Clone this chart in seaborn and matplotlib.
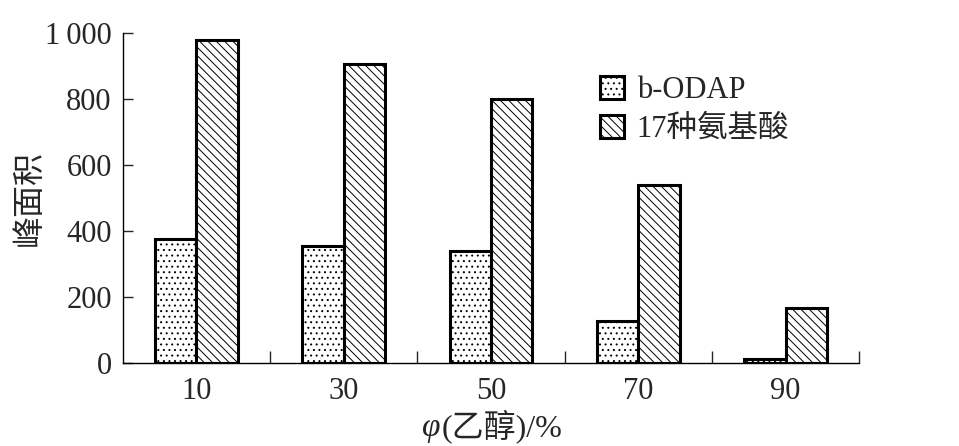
import matplotlib
matplotlib.use("Agg")
import matplotlib.pyplot as plt
import numpy as np
import pandas as pd
import seaborn as sns
from matplotlib.ticker import FixedLocator

# chart data
ethanol = ["10", "30", "50", "70", "90"]
series_names = ["b-ODAP", "17种氨基酸"]
odap_area = [375, 355, 338, 128, 12]
amino_area = [978, 905, 800, 538, 168]
y_ticks = [0, 200, 400, 600, 800, 1000]
y_tick_labels = ["0", "200", "400", "600", "800", "1\u2009000"]

df = pd.DataFrame({
    "ethanol": ethanol * 2,
    "series": [series_names[0]] * len(ethanol) + [series_names[1]] * len(ethanol),
    "area": odap_area + amino_area,
})

sns.set_style("white")
plt.rcParams["font.family"] = ["Liberation Serif", "Noto Sans CJK SC", "DejaVu Sans"]
plt.rcParams["hatch.linewidth"] = 0.7
plt.rcParams["hatch.color"] = "black"

fig = plt.figure(figsize=(9.59, 4.46), dpi=100)
ax = fig.add_axes([0.128, 0.186, 0.768, 0.740])

sns.barplot(data=df, x="ethanol", y="area", hue="series", order=ethanol,
            hue_order=series_names, palette=["white", "white"], width=0.56,
            edgecolor="black", linewidth=2.2, legend=False, ax=ax)

hatches = ["...", "\\\\\\\\"]
for cont, h in zip(ax.containers, hatches):
    for bar in cont:
        bar.set_hatch(h)

ax.set_xlim(-0.5, len(ethanol) - 0.5)
ax.set_ylim(0, 1000)
sns.despine(ax=ax)
for sp in ["left", "bottom"]:
    ax.spines[sp].set_linewidth(1.0)
    ax.spines[sp].set_color("black")

ax.yaxis.set_major_locator(FixedLocator(y_ticks))
ax.set_yticklabels(y_tick_labels)
ax.tick_params(axis="y", direction="in", length=7, width=1.0, labelsize=22, pad=8, left=True)
ax.tick_params(axis="x", which="major", length=0, labelsize=22, pad=10, bottom=True)
ax.xaxis.set_minor_locator(FixedLocator(np.arange(0.5, len(ethanol), 1.0)))
ax.tick_params(axis="x", which="minor", direction="in", length=9, width=1.0, bottom=True)

ax.set_xlabel("")
ax.set_ylabel("峰面积", fontsize=23, labelpad=0)

# x label: italic phi + rest
fig.text(0.459, 0.022, "φ", fontsize=24, style="italic", ha="right", va="baseline",
         family=["Liberation Serif", "DejaVu Sans"])
fig.text(0.461, 0.022, "(乙醇)/%", fontsize=23, ha="left", va="baseline")

ax.legend(ax.containers, series_names, loc="upper left", bbox_to_anchor=(0.648, 0.87),
          frameon=False, fontsize=22, handlelength=0.8, handleheight=0.8,
          handletextpad=0.4, labelspacing=0.32, borderpad=0, borderaxespad=0)

fig.savefig("out.png", dpi=100)
